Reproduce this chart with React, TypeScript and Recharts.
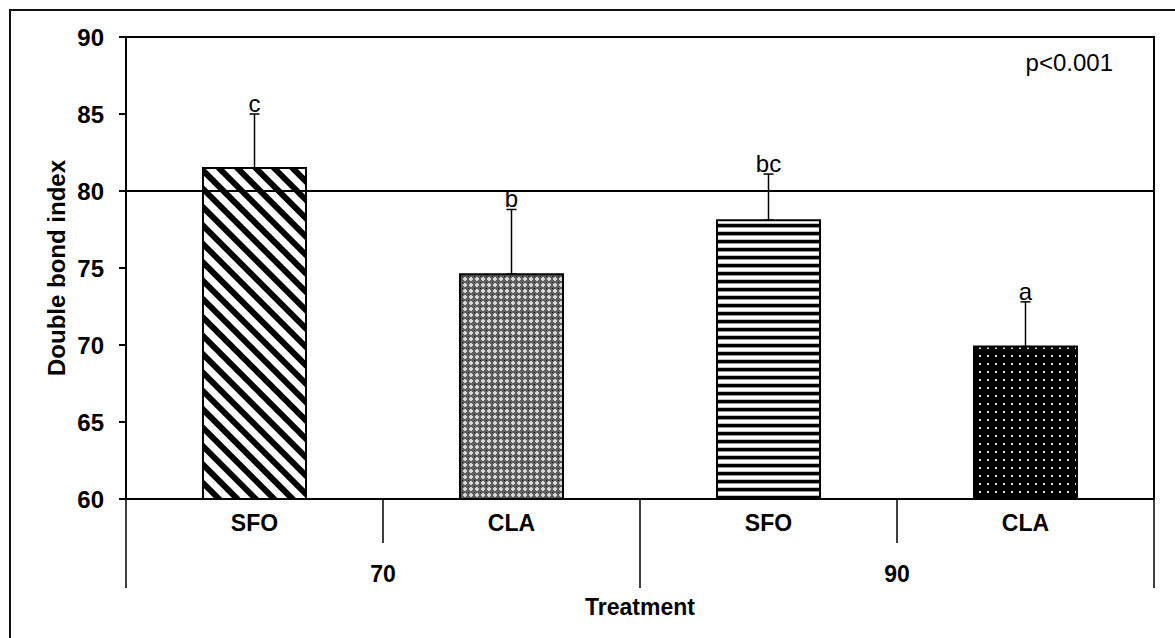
import React from 'react';
import {
  ComposedChart,
  Bar,
  Cell,
  XAxis,
  YAxis,
  ErrorBar,
  ReferenceLine,
  ReferenceArea,
  ReferenceDot,
} from 'recharts';

// ---- data ----
const levels = ['70', '70', '90', '90'];
const treatments = ['SFO', 'CLA', 'SFO', 'CLA'];
const means = [81.5, 74.6, 78.1, 69.9];
const errors = [3.5, 4.2, 3.0, 2.9];
const letters = ['c', 'b', 'bc', 'a'];
const patternIds = ['pDiag', 'pCross', 'pHoriz', 'pDots'];
const yTicks = [60, 65, 70, 75, 80, 85, 90];
const yDomain = [60, 90];
const refValue = 80;
const pText = 'p<0.001';
const yTitle = 'Double bond index';
const xTitle = 'Treatment';

const data = means.map((v, i) => ({
  key: `${levels[i]}-${treatments[i]}`,
  level: levels[i],
  treatment: treatments[i],
  value: v,
  err: [0, errors[i]],
}));

// ---- layout ----
const W = 1175;
const H = 638;
const MARGIN = { top: 37, right: 21, bottom: 0, left: 20 };
const Y_W = 106;
const X_H = H - 499;
const PLOT_W = W - MARGIN.left - Y_W - MARGIN.right;
const BAND = PLOT_W / data.length;
const FONT = '"Liberation Sans", Arial, Helvetica, sans-serif';
const XFS = 23;

const XTick = (props: any) => {
  const { x, y, payload, index } = props;
  const d = data.find((r) => r.key === payload.value) || data[index];
  const i = data.indexOf(d);
  const half = BAND / 2;
  const els: any[] = [];
  els.push(
    <text key="t" x={x} y={y + 32} textAnchor="middle" fontFamily={FONT} fontWeight="bold" fontSize={XFS} fill="#000">
      {d.treatment}
    </text>
  );
  const firstOfGroup = i === 0 || data[i - 1].level !== d.level;
  const lastOfGroup = i === data.length - 1 || data[i + 1].level !== d.level;
  if (firstOfGroup) {
    els.push(<line key="lg" x1={x - half} x2={x - half} y1={y} y2={y + 89} stroke="#000" strokeWidth={1.5} />);
  } else {
    els.push(<line key="sh" x1={x - half} x2={x - half} y1={y} y2={y + 44} stroke="#000" strokeWidth={1.5} />);
    els.push(
      <text key="g" x={x - half} y={y + 83} textAnchor="middle" fontFamily={FONT} fontWeight="bold" fontSize={XFS} fill="#000">
        {d.level}
      </text>
    );
  }
  if (i === data.length - 1 && lastOfGroup) {
    els.push(<line key="end" x1={x + half} x2={x + half} y1={y} y2={y + 89} stroke="#000" strokeWidth={1.5} />);
  }
  return <g>{els}</g>;
};

const PLabel = (props: any) => {
  const vb = props.viewBox || {};
  return (
    <text x={vb.x + vb.width - 41} y={vb.y + 34} textAnchor="end" fontFamily={FONT} fontSize={24} fill="#000">
      {pText}
    </text>
  );
};

export default function App() {
  return (
    <div style={{ position: 'absolute', left: 0, top: 0, width: W, height: H, overflow: 'hidden', background: '#fff' }}>
      <div
        style={{
          position: 'absolute',
          left: 9,
          top: 9,
          width: W - 9,
          height: H - 9,
          boxSizing: 'border-box',
          borderTop: '2px solid #111',
          borderLeft: '2px solid #111',
        }}
      />
      <div style={{ position: 'absolute', left: 0, top: 0 }}>
        <ComposedChart width={W} height={H} data={data} margin={MARGIN}>
          <defs>
            <pattern id="pDiag" patternUnits="userSpaceOnUse" width="13" height="13" patternTransform="rotate(45)">
              <rect width="13" height="13" fill="#fff" />
              <rect width="13" height="6" fill="#000" />
            </pattern>
            <pattern id="pCross" patternUnits="userSpaceOnUse" width="6" height="6">
              <rect width="6" height="6" fill="#5e5e5e" />
              <rect x="1" y="2" width="4" height="2" fill="#cfcfcf" />
              <rect x="2" y="1" width="2" height="4" fill="#cfcfcf" />
              <rect x="2.5" y="2.5" width="1" height="1" fill="#fff" />
              <rect x="0" y="0" width="1" height="1" fill="#000" />
            </pattern>
            <pattern id="pHoriz" patternUnits="userSpaceOnUse" width="8" height="8">
              <rect width="8" height="8" fill="#fff" />
              <rect y="0" width="8" height="3" fill="#000" />
              <rect y="3" width="8" height="1" fill="#9a9a9a" />
              <rect y="7" width="8" height="1" fill="#bdbdbd" />
            </pattern>
            <pattern id="pDots" patternUnits="userSpaceOnUse" width="8" height="8">
              <rect width="8" height="8" fill="#000" />
              <rect x="3" y="3" width="2" height="2" fill="#d8d8d8" />
            </pattern>
          </defs>
          <XAxis
            dataKey="key"
            interval={0}
            height={X_H}
            tickSize={0}
            tickMargin={0}
            tickLine={false}
            axisLine={{ stroke: '#000', strokeWidth: 2 }}
            tick={<XTick />}
            label={{
              value: xTitle,
              position: 'insideBottom',
              offset: 23,
              style: { fontFamily: FONT, fontWeight: 'bold', fontSize: XFS, fill: '#000' },
            }}
          />
          <YAxis
            domain={yDomain}
            ticks={yTicks}
            allowDataOverflow
            width={Y_W}
            tickSize={7}
            tickMargin={15}
            tickLine={{ stroke: '#000', strokeWidth: 2 }}
            axisLine={{ stroke: '#000', strokeWidth: 2 }}
            tick={{ fill: '#000', fontSize: 24, fontWeight: 'bold', fontFamily: FONT }}
            label={{
              value: yTitle,
              angle: -90,
              position: 'insideLeft',
              offset: 36,
              style: { textAnchor: 'middle', fontFamily: FONT, fontWeight: 'bold', fontSize: 24, fill: '#000' },
            }}
          />
          <ReferenceArea y1={yDomain[0]} y2={yDomain[1]} fill="none" stroke="#000" strokeWidth={2} fillOpacity={0} />
          <Bar dataKey="value" barSize={103} stroke="#000" strokeWidth={2} isAnimationActive={false}>
            {data.map((d, i) => (
              <Cell key={d.key} fill={`url(#${patternIds[i]})`} />
            ))}
            <ErrorBar dataKey="err" width={5} stroke="#000" strokeWidth={1.5} direction="y" />
          </Bar>
          <ReferenceLine y={refValue} stroke="#000" strokeWidth={2} />
          <ReferenceLine y={yDomain[1]} stroke="none" label={<PLabel />} />
          {data.map((d, i) => (
            <ReferenceDot
              key={`l-${d.key}`}
              x={d.key}
              y={d.value + errors[i]}
              r={0}
              fill="none"
              stroke="none"
              label={{
                value: letters[i],
                position: 'top',
                offset: 2,
                style: { fontFamily: FONT, fontSize: 24, fill: '#000' },
              }}
            />
          ))}
        </ComposedChart>
      </div>
    </div>
  );
}
